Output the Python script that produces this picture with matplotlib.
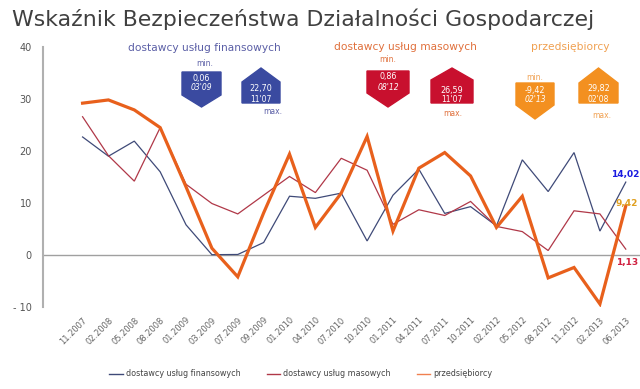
import matplotlib
matplotlib.use("Agg")
import matplotlib.pyplot as plt
from matplotlib.patches import Polygon

plt.rcParams['font.family'] = ['DejaVu Sans']

categories = ["11.2007", "02.2008", "05.2008", "08.2008", "01.2009", "03.2009", "07.2009",
              "09.2009", "01.2010", "04.2010", "07.2010", "10.2010", "01.2011", "04.2011",
              "07.2011", "10.2011", "02.2012", "05.2012", "08.2012", "11.2012", "02.2013", "06.2013"]

finansowych = [22.70, 19.0, 21.9, 16.0, 5.8, 0.06, 0.1, 2.4, 11.3, 10.9, 11.9, 2.7, 11.5, 16.5,
               8.0, 9.3, 5.6, 18.3, 12.2, 19.7, 4.6, 14.02]
masowych = [26.59, 19.1, 14.2, 24.5, 13.6, 9.9, 7.9, 11.5, 15.1, 12.0, 18.6, 16.3, 5.9, 8.7,
            7.6, 10.3, 5.5, 4.5, 0.86, 8.5, 7.9, 1.13]
przedsiebiorcy = [29.2, 29.82, 27.9, 24.5, 13.1, 1.3, -4.2, 8.1, 19.4, 5.3, 11.9, 22.8, 4.6, 16.7,
                  19.7, 15.2, 5.3, 11.3, -4.4, -2.4, -9.42, 9.42]

series_names = ["dostawcy usług finansowych", "dostawcy usług masowych", "przedsiębiorcy"]
line_colors = ["#3f4a78", "#b03848", "#e8601c"]
legend_colors = ["#3f4a78", "#b03848", "#f08050"]
header_colors = ["#5b5fa6", "#e0703c", "#f0a050"]
box_colors = ["#3a4aa0", "#c8102e", "#f39020"]
end_colors = ["#1a1ae0", "#d02040", "#e0a020"]
yticks = [-10, 0, 10, 20, 30, 40]
ytick_labels = ["- 10", "0", "10", "20", "30", "40"]

W, H = 640, 389
fig = plt.figure(figsize=(W / 100, H / 100), dpi=100)
ax = fig.add_axes([43 / W, 1 - 307 / H, (640 - 43) / W, (307 - 47) / H])

x = list(range(len(categories)))
data = [finansowych, masowych, przedsiebiorcy]
widths = [0.9, 0.9, 2.3]
for vals, c, lw, name in zip(data, line_colors, widths, series_names):
    ax.plot(x, vals, color=c, lw=lw, label=name, solid_joinstyle='miter')

ax.axhline(0, color="#a0a0a0", lw=1.0, zorder=0)
ax.set_ylim(-10, 40)
ax.set_xlim(-1.53, 21.55)
ax.set_yticks(yticks)
ax.set_yticklabels(ytick_labels, fontsize=7, color="#555555")
ax.set_xticks(x)
ax.set_xticklabels(categories, rotation=45, ha='right', va='top', fontsize=6, color="#666666",
                   rotation_mode='anchor')
ax.tick_params(axis='both', length=0)
ax.tick_params(axis='y', pad=8)
ax.tick_params(axis='x', pad=6)
for s in ["top", "right", "bottom"]:
    ax.spines[s].set_visible(False)
ax.spines["left"].set_color("#b0b0b0")
ax.spines["left"].set_linewidth(1.5)

def fmt(v):
    return f"{v:.2f}".replace(".", ",")

end_offsets = [(625, 175), (627, 263), (627, 203)]
for vals, c, (px, py) in zip(data, end_colors, end_offsets):
    fig.text(px / W, 1 - py / H, fmt(vals[-1]), color=c, fontsize=6.5, fontweight='bold',
             ha='center', va='center')

fig.text(12 / W, 1 - 19 / H, "Wskaźnik Bezpieczeństwa Działalności Gospodarczej", fontsize=15.8,
         color="#404040", ha='left', va='center')

def fx(px):
    return px / W

def fy(py):
    return 1 - py / H

def short_date(lbl):
    m, y = lbl.split(".")
    return f"{m}'{y[2:]}"

def pentagon_down(x0, x1, top, rb, pt, color):
    pts = [(fx(x0), fy(top)), (fx(x1), fy(top)), (fx(x1), fy(rb)),
           ((fx(x0) + fx(x1)) / 2, fy(pt)), (fx(x0), fy(rb))]
    fig.patches.append(Polygon(pts, closed=True, transform=fig.transFigure, color=color))

def pentagon_up(x0, x1, apex, sh, bot, color):
    pts = [((fx(x0) + fx(x1)) / 2, fy(apex)), (fx(x1), fy(sh)), (fx(x1), fy(bot)),
           (fx(x0), fy(bot)), (fx(x0), fy(sh))]
    fig.patches.append(Polygon(pts, closed=True, transform=fig.transFigure, color=color))

headers = [(204, 48), (405, 47), (570, 47)]
min_boxes = [dict(x0=182, x1=221, top=72, rb=95, pt=107, t1=78, t2=88, lbl=(205, 64)),
             dict(x0=367, x1=409, top=71, rb=93, pt=107, t1=77, t2=88, lbl=(388, 60)),
             dict(x0=516, x1=554, top=83, rb=105, pt=119, t1=90, t2=100, lbl=(535, 78))]
max_boxes = [dict(x0=242, x1=280, apex=68, sh=82, bot=103, t1=89, t2=100, lbl=(273, 112)),
             dict(x0=431, x1=473, apex=68, sh=80, bot=103, t1=90, t2=100, lbl=(453, 113)),
             dict(x0=579, x1=618, apex=68, sh=83, bot=103, t1=89, t2=100, lbl=(602, 116))]

for i, vals in enumerate(data):
    hx, hy = headers[i]
    fig.text(fx(hx), fy(hy), series_names[i], color=header_colors[i], fontsize=7.7,
             ha='center', va='center')
    imin = vals.index(min(vals))
    imax = vals.index(max(vals))
    b = min_boxes[i]
    pentagon_down(b["x0"], b["x1"], b["top"], b["rb"], b["pt"], box_colors[i])
    cx = (b["x0"] + b["x1"]) / 2
    fig.text(fx(cx), fy(b["t1"]), fmt(vals[imin]), color="white", fontsize=5.8,
             ha='center', va='center')
    fig.text(fx(cx), fy(b["t2"]), short_date(categories[imin]), color="white", fontsize=5.5,
             style='italic', ha='center', va='center')
    fig.text(fx(b["lbl"][0]), fy(b["lbl"][1]), "min.", color=header_colors[i], fontsize=5.5,
             ha='center', va='center')
    b = max_boxes[i]
    pentagon_up(b["x0"], b["x1"], b["apex"], b["sh"], b["bot"], box_colors[i])
    cx = (b["x0"] + b["x1"]) / 2
    fig.text(fx(cx), fy(b["t1"]), fmt(vals[imax]), color="white", fontsize=5.8,
             ha='center', va='center')
    fig.text(fx(cx), fy(b["t2"]), short_date(categories[imax]), color="white", fontsize=5.5,
             ha='center', va='center')
    fig.text(fx(b["lbl"][0]), fy(b["lbl"][1]), "max.", color=header_colors[i], fontsize=5.5,
             ha='center', va='center')

handles, labels = ax.get_legend_handles_labels()
leg = fig.legend(handles, labels, loc='center', bbox_to_anchor=(301 / W, fy(374)), ncol=3,
                 frameon=False, fontsize=5.8, handlelength=1.7, handletextpad=0.4,
                 columnspacing=3.2)
for lh, c in zip(leg.get_lines(), legend_colors):
    lh.set_linewidth(1.0)
    lh.set_color(c)
for t in leg.get_texts():
    t.set_color("#444444")

fig.savefig("out.png", dpi=100)
